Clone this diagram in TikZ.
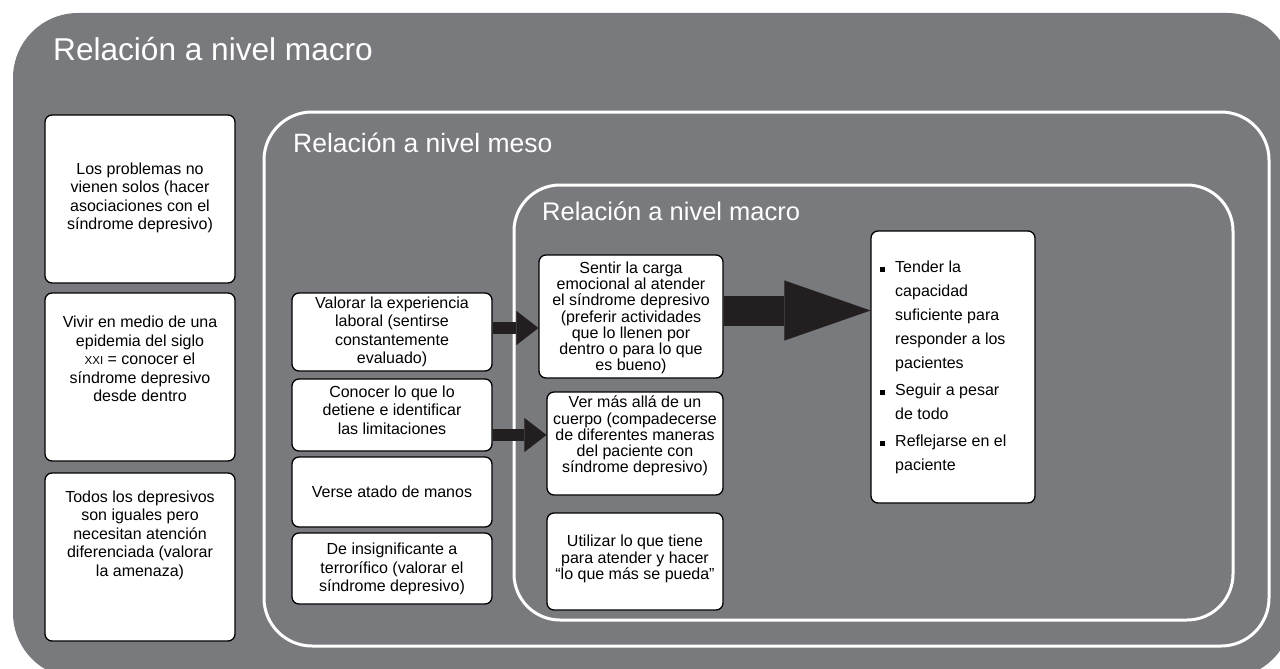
\documentclass[tikz,border=0pt]{standalone}
\usepackage{fontspec}
\setmainfont{Liberation Sans}
\usetikzlibrary{arrows.meta}

\definecolor{bggray}{RGB}{121,122,126}
\definecolor{arrowblack}{RGB}{35,31,32}
\newcommand{\sqitem}{\llap{\rule[1pt]{5pt}{5pt}\hspace{10pt}}}
\newcommand{\sigloxxi}{{\fontsize{11.5}{11.5}\selectfont XXI}}

\begin{document}
\begin{tikzpicture}[x=1pt,y=-1pt,
    card/.style={draw=black,fill=white,line width=1.3pt,rounded corners=7pt,inner sep=0pt},
    cardtxt/.style={align=center,inner sep=0pt,font=\fontsize{16}{18.5}\selectfont},
    tighttxt/.style={align=center,inner sep=0pt,font=\fontsize{16}{16.2}\selectfont},
    listtxt/.style={align=left,inner sep=0pt,anchor=north west,font=\fontsize{16}{24}\selectfont},
    ring/.style={draw=white,line width=3pt},
    heading/.style={anchor=base west,inner sep=0pt,text=white},
    flow/.style={draw=arrowblack,line width=12pt,-{Triangle[length=22pt,width=34pt,line width=0.01pt]}},
    bigflow/.style={draw=arrowblack,line width=30pt,-{Triangle[length=86pt,width=60pt,line width=0.01pt]}}]

        % Page and background
        \useasboundingbox (0,0) rectangle (1280,669);
        \fill[white] (0,0) rectangle (1280,669);
        \clip (0,0) rectangle (1280,669);
        \fill[bggray,rounded corners=65pt] (13,13) rectangle (1292,678);

        % Frames
        \draw[ring,rounded corners=48pt] (264,112) rectangle (1269,646);
        \draw[ring,rounded corners=46pt] (514,185) rectangle (1233,620);

        % Headings
        \node[heading,font=\fontsize{31.6}{34}\selectfont] (macro) at (53,61) {Relación a nivel macro};
        \node[heading,font=\fontsize{26.5}{30}\selectfont] (meso) at (293,152) {Relación a nivel meso};
        \node[heading,font=\fontsize{25.5}{30}\selectfont] (micro) at (542,220) {Relación a nivel macro};

        % Left column
        \node[card,minimum width=190,minimum height=168] (l1) at (140,199) {};
        \node[card,minimum width=190,minimum height=168] (l2) at (140,377) {};
        \node[card,minimum width=190,minimum height=168] (l3) at (140,557) {};
        \node[cardtxt] (l1t) at (140,198) {Los problemas no\\vienen solos (hacer\\asociaciones con el\\síndrome depresivo)};
        \node[cardtxt] (l2t) at (140,359) {Vivir en medio de una\\epidemia del siglo\\\sigloxxi{} = conocer el\\síndrome depresivo\\desde dentro};
        \node[cardtxt] (l3t) at (140,535) {Todos los depresivos\\son iguales pero\\necesitan atención\\diferenciada (valorar\\la amenaza)};

        % Meso column
        \node[card,minimum width=200,minimum height=78] (m1) at (392,332) {};
        \node[card,minimum width=200,minimum height=72] (m2) at (392,415) {};
        \node[card,minimum width=200,minimum height=70] (m3) at (392,492) {};
        \node[card,minimum width=200,minimum height=71] (m4) at (392,568.5) {};
        \node[cardtxt] (m1t) at (392,332) {Valorar la experiencia\\laboral (sentirse\\constantemente\\evaluado)};
        \node[cardtxt] (m2t) at (392,410) {Conocer lo que lo\\detiene e identificar\\las limitaciones};
        \node[cardtxt] (m3t) at (392,492) {Verse atado de manos};
        \node[cardtxt] (m4t) at (392,569) {De insignificante a\\terrorífico (valorar el\\síndrome depresivo)};

        % Inner column
        \node[card,minimum width=184,minimum height=123] (r1) at (631,316.5) {};
        \node[card,minimum width=176,minimum height=103] (r2) at (635,443.5) {};
        \node[card,minimum width=176,minimum height=97] (r3) at (635,561.5) {};
        \node[tighttxt] (r1t) at (631,318) {Sentir la carga\\emocional al atender\\el síndrome depresivo\\(preferir actividades\\que lo llenen por\\dentro o para lo que\\es bueno)};
        \node[tighttxt] (r2t) at (635,436) {Ver más allá de un\\cuerpo (compadecerse\\de diferentes maneras\\del paciente con\\síndrome depresivo)};
        \node[tighttxt] (r3t) at (635,559) {Utilizar lo que tiene\\para atender y hacer\\“lo que más se pueda”};

        % Result
        \node[card,minimum width=164,minimum height=272] (f) at (953,367) {};
        \node[listtxt] (ft) at (895,261) {\sqitem Tender la\\capacidad\\suficiente para\\responder a los\\pacientes\\[3pt]
            \sqitem Seguir a pesar\\de todo\\[3pt]
            \sqitem Reflejarse en el\\paciente};

        % Arrows
        \draw[flow] ([yshift=4pt]m1.east) -- ([yshift=4pt]m1.east -| r1.west);
        \draw[flow] ([yshift=-20pt]m2.east) -- ([yshift=-20pt]m2.east -| r2.west);
        \draw[bigflow] ([yshift=6pt]r1.east) -- ([yshift=6pt]r1.east -| f.west);

      \end{tikzpicture}
\end{document}
